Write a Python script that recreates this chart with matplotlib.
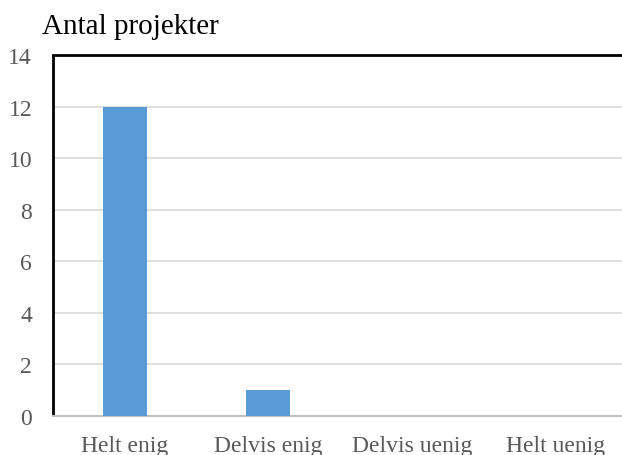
import matplotlib
matplotlib.use("Agg")
from matplotlib import pyplot as plt

categories = ["Helt enig", "Delvis enig", "Delvis uenig", "Helt uenig"]
counts = [12, 1, 0, 0]
yticks = [0, 2, 4, 6, 8, 10, 12, 14]

plt.rcParams['font.family'] = ['Liberation Serif', 'DejaVu Serif']

fig = plt.figure(figsize=(6.22, 4.56), dpi=100)
ax = fig.add_axes([53 / 622, 1 - 417 / 456, 574 / 622, 361 / 456])

x = range(len(categories))
ax.bar(x, counts, width=0.31, color='#5b9bd5', zorder=3)

ax.set_xlim(-0.5, len(categories) - 0.5)
ax.set_ylim(0, 14)
ax.set_yticks(yticks)
ax.set_xticks(list(x))
ax.set_xticklabels(categories)
ax.tick_params(axis='both', length=0, labelsize=17, labelcolor='#595959')
ax.tick_params(axis='y', pad=15)
ax.tick_params(axis='x', pad=14)
ax.grid(axis='y', color='#d9d9d9', linewidth=1.2, zorder=0)

ax.spines['right'].set_visible(False)
ax.spines['top'].set_color('black')
ax.spines['top'].set_linewidth(2)
ax.spines['left'].set_color('black')
ax.spines['left'].set_linewidth(2)
ax.spines['left'].set_capstyle('butt')
ax.spines['bottom'].set_color('#bfbfbf')
ax.spines['bottom'].set_linewidth(1.5)

fig.text(42 / 622, 1 - 34 / 456, "Antal projekter", fontsize=21, ha='left', va='baseline')

fig.savefig("out.png", dpi=100)
